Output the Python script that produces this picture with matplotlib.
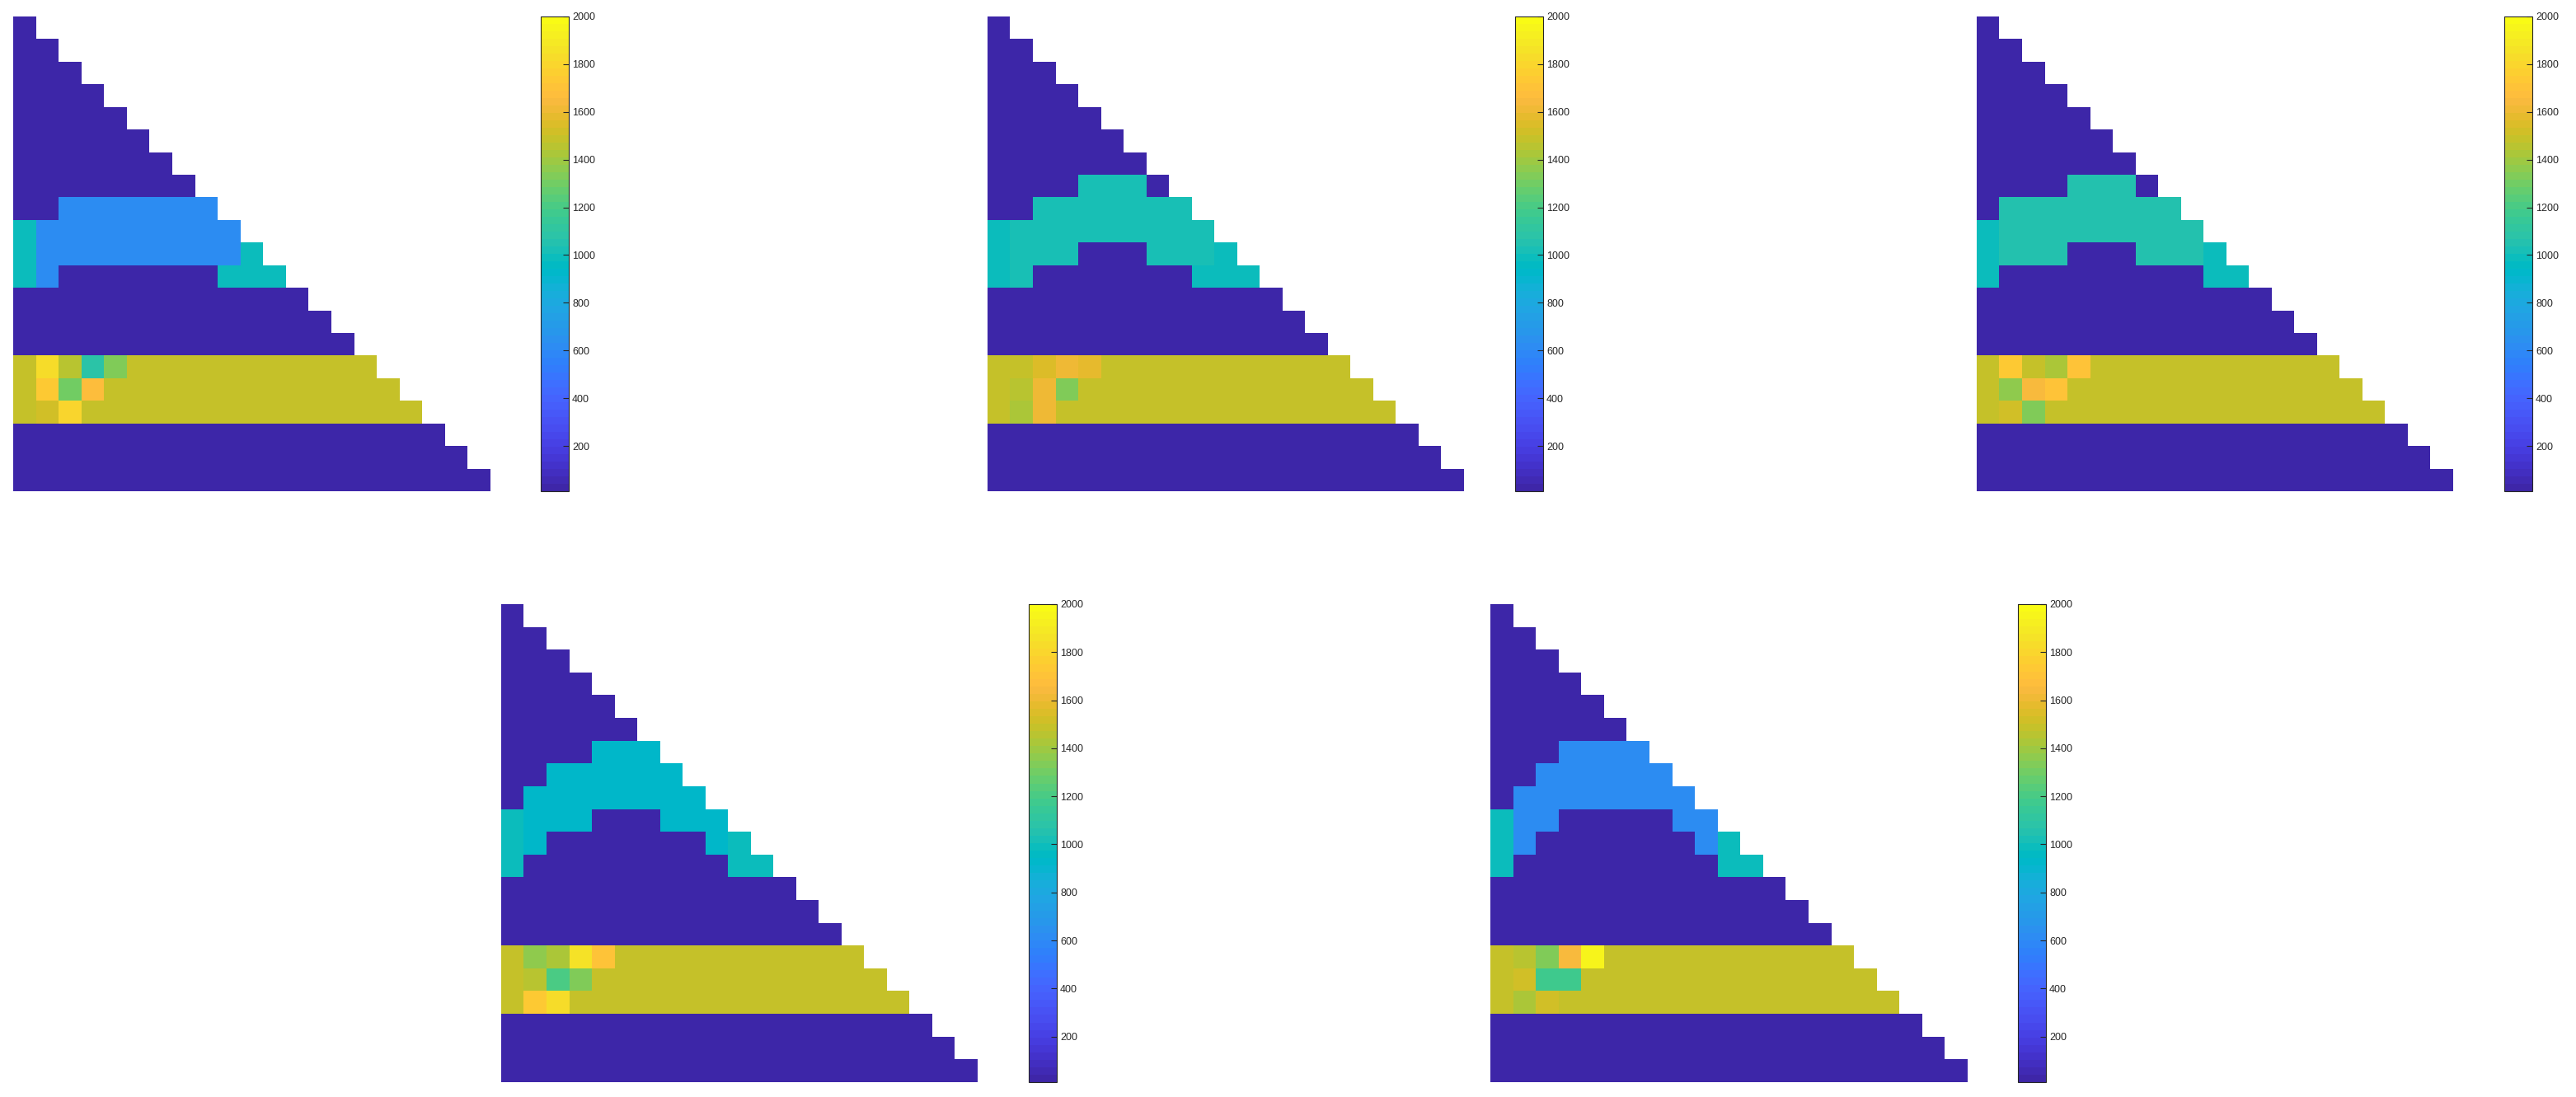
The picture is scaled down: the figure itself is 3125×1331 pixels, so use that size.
import numpy as np
import matplotlib
matplotlib.use("Agg")
import matplotlib.pyplot as plt
from matplotlib.colors import ListedColormap

# value read for each cell code (colour -> value on the 10..2000 colour scale)
levels = {
    ".": 15,
    "b": 615, "c": 925, "t": 990, "u": 1020, "v": 1050,
    "a": 1085, "e": 1190, "f": 1215, "h": 1300, "k": 1330, "m": 1360,
    "n": 1375, "p": 1425, "q": 1455, "o": 1490, "r": 1520, "s": 1550,
    "w": 1565, "x": 1610, "y": 1640, "z": 1675, "A": 1705, "B": 1720,
    "C": 1735, "D": 1750, "E": 1800, "F": 1815, "G": 1830, "H": 1845,
    "I": 1950,
}

# lower triangular 21x21 matrices, one string per row (row i has i+1 cells)
panel1 = [
    ".", "..", "...", "....", ".....", "......", ".......", "........",
    "..bbbbbbb",
    "tbbbbbbbbb",
    "tbbbbbbbbbt",
    "tb.......ttt",
    ".............",
    "..............",
    "...............",
    "oFqakooooooooooo",
    "oDhzooooooooooooo",
    "orEooooooooooooooo",
    "...................",
    "....................",
    ".....................",
]

panel2 = [
    ".", "..", "...", "....", ".....", "......", ".......",
    "....uuu.",
    "..uuuuuuu",
    "tuuuuuuuuu",
    "tuuu...uuut",
    "tu.......ttt",
    ".............",
    "..............",
    "...............",
    "oosxwooooooooooo",
    "oqxkooooooooooooo",
    "opxooooooooooooooo",
    "...................",
    "....................",
    ".....................",
]

panel3 = [
    ".", "..", "...", "....", ".....", "......", ".......",
    "....vvv.",
    ".vvvvvvvv",
    "tvvvvvvvvv",
    "tvvv...vvvt",
    "t.........tt",
    ".............",
    "..............",
    "...............",
    "oCopAooooooooooo",
    "onyBooooooooooooo",
    "orkooooooooooooooo",
    "...................",
    "....................",
    ".....................",
]

panel4 = [
    ".", "..", "...", "....", ".....", "......",
    "....ccc",
    "..cccccc",
    ".cccccccc",
    "tccc...ccc",
    "tc.......ct",
    "t.........tt",
    ".............",
    "..............",
    "...............",
    "ompHAooooooooooo",
    "oqfkooooooooooooo",
    "oDGooooooooooooooo",
    "...................",
    "....................",
    ".....................",
]

panel5 = [
    ".", "..", "...", "....", ".....", "......",
    "...bbbb",
    "..bbbbbb",
    ".bbbbbbbb",
    "tbb.....bb",
    "tb.......bt",
    "t.........tt",
    ".............",
    "..............",
    "...............",
    "oqkyIooooooooooo",
    "oreeooooooooooooo",
    "oprooooooooooooooo",
    "...................",
    "....................",
    ".....................",
]

cbar_ticks = [200, 400, 600, 800, 1000, 1200, 1400, 1600, 1800, 2000]
vmin, vmax = 10, 2000

# MATLAB parula (64 colours)
parula = ListedColormap([
    [0.2422, 0.1504, 0.6603], [0.2504, 0.1650, 0.7076], [0.2578, 0.1818, 0.7511],
    [0.2647, 0.1978, 0.7952], [0.2706, 0.2147, 0.8364], [0.2751, 0.2342, 0.8710],
    [0.2783, 0.2559, 0.8991], [0.2803, 0.2782, 0.9221], [0.2813, 0.3006, 0.9414],
    [0.2810, 0.3228, 0.9579], [0.2795, 0.3447, 0.9717], [0.2760, 0.3667, 0.9829],
    [0.2699, 0.3892, 0.9906], [0.2602, 0.4123, 0.9952], [0.2440, 0.4358, 0.9988],
    [0.2206, 0.4603, 0.9973], [0.1963, 0.4847, 0.9892], [0.1834, 0.5074, 0.9798],
    [0.1786, 0.5289, 0.9682], [0.1764, 0.5499, 0.9520], [0.1687, 0.5703, 0.9359],
    [0.1540, 0.5902, 0.9218], [0.1460, 0.6091, 0.9079], [0.1380, 0.6276, 0.8973],
    [0.1248, 0.6459, 0.8883], [0.1113, 0.6635, 0.8763], [0.0952, 0.6798, 0.8598],
    [0.0689, 0.6948, 0.8394], [0.0297, 0.7082, 0.8163], [0.0036, 0.7203, 0.7917],
    [0.0067, 0.7312, 0.7660], [0.0433, 0.7411, 0.7394], [0.0964, 0.7500, 0.7120],
    [0.1408, 0.7584, 0.6842], [0.1717, 0.7670, 0.6554], [0.1938, 0.7758, 0.6251],
    [0.2161, 0.7843, 0.5923], [0.2470, 0.7918, 0.5567], [0.2906, 0.7973, 0.5188],
    [0.3406, 0.8008, 0.4789], [0.3909, 0.8029, 0.4354], [0.4456, 0.8024, 0.3909],
    [0.5044, 0.7993, 0.3480], [0.5616, 0.7942, 0.3045], [0.6174, 0.7876, 0.2612],
    [0.6720, 0.7793, 0.2227], [0.7242, 0.7698, 0.1910], [0.7738, 0.7598, 0.1646],
    [0.8203, 0.7498, 0.1535], [0.8634, 0.7406, 0.1596], [0.9035, 0.7330, 0.1774],
    [0.9393, 0.7288, 0.2100], [0.9728, 0.7298, 0.2394], [0.9956, 0.7434, 0.2371],
    [0.9970, 0.7659, 0.2199], [0.9952, 0.7893, 0.2028], [0.9892, 0.8136, 0.1885],
    [0.9786, 0.8386, 0.1766], [0.9676, 0.8639, 0.1643], [0.9610, 0.8890, 0.1537],
    [0.9597, 0.9135, 0.1423], [0.9628, 0.9373, 0.1265], [0.9691, 0.9606, 0.1064],
    [0.9769, 0.9839, 0.0805],
])


def to_matrix(rows):
    n = len(rows)
    mat = np.full((n, n), np.nan)
    for i, row in enumerate(rows):
        for j, ch in enumerate(row):
            mat[i, j] = levels[ch]
    return np.ma.masked_invalid(mat)


W, H = 3125, 1331
fig = plt.figure(figsize=(W / 100, H / 100), dpi=100)

# (left, top, height) of each panel in pixels
placements = [(16, 20, 576, panel1), (1198, 20, 576, panel2), (2398, 20, 576, panel3),
              (608, 733, 580, panel4), (1808, 733, 580, panel5)]
ax_w = 578

for left, top, ax_h, rows in placements:
    ax = fig.add_axes([left / W, 1 - (top + ax_h) / H, ax_w / W, ax_h / H])
    im = ax.imshow(to_matrix(rows), cmap=parula, vmin=vmin, vmax=vmax,
                   aspect="auto", interpolation="nearest")
    ax.axis("off")

    cax = fig.add_axes([(left + 640) / W, 1 - (top + ax_h) / H, 34 / W, ax_h / H])
    cb = fig.colorbar(im, cax=cax, ticks=cbar_ticks)
    cb.ax.tick_params(direction="in", length=5, width=0.8, labelsize=9, pad=3,
                      colors="#262626")
    cb.outline.set_linewidth(0.8)
    cb.outline.set_edgecolor("#262626")
    for lab in cb.ax.get_yticklabels():
        lab.set_family("Liberation Sans")

fig.savefig("out.png", dpi=100, facecolor="white")
